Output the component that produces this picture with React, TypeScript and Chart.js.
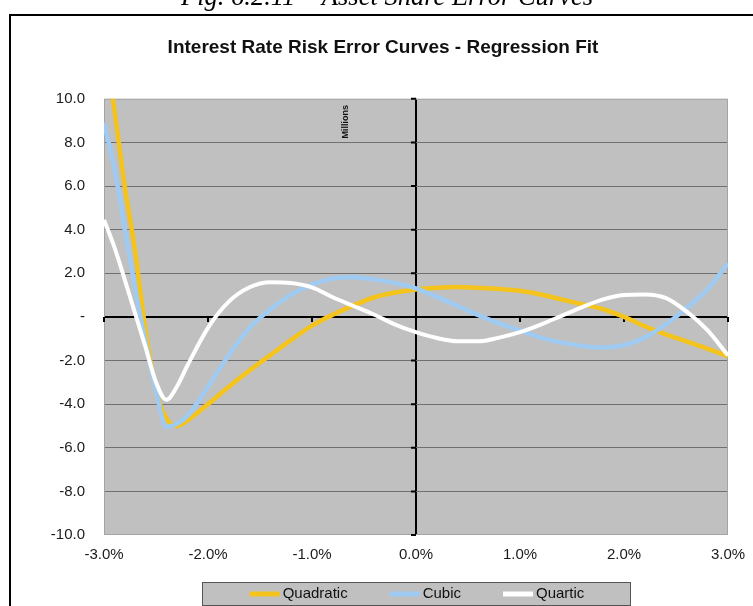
import React, { useEffect, useRef } from 'react';
import { Chart, registerables } from 'chart.js';

Chart.register(...registerables);

const CAPTION = 'Fig. 6.2.11 \u2013 Asset Share Error Curves';
const TITLE = 'Interest Rate Risk Error Curves - Regression Fit';
const UNIT_LABEL = 'Millions';

const seriesLabels = ['Quadratic', 'Cubic', 'Quartic'];
const seriesColors = ['#F4C31C', '#9FCBF2', '#FFFFFF'];

// interest-rate shift in %
const xValues = [
  -3.0, -2.9, -2.8, -2.7, -2.6, -2.5, -2.4, -2.3, -2.2, -2.0, -1.8, -1.6, -1.4, -1.2,
  -1.0, -0.8, -0.6, -0.4, -0.2, 0.0, 0.2, 0.4, 0.6, 0.8, 1.0, 1.2, 1.4, 1.6, 1.8,
  2.0, 2.2, 2.4, 2.6, 2.8, 3.0,
];

const quadratic = [
  12.8, 9.5, 6.0, 3.0, -0.65, -3.4, -4.65, -5.0, -4.75, -4.0, -3.2, -2.45, -1.75, -1.05,
  -0.4, 0.1, 0.53, 0.9, 1.12, 1.26, 1.34, 1.37, 1.33, 1.28, 1.2, 1.03, 0.8, 0.58, 0.35,
  0.0, -0.43, -0.8, -1.12, -1.45, -1.8,
];

const cubic = [
  8.9, 6.8, 4.0, 1.3, -1.2, -3.4, -5.05, -4.9, -4.55, -3.2, -1.75, -0.5, 0.35, 1.02,
  1.48, 1.76, 1.82, 1.72, 1.55, 1.31, 0.92, 0.5, 0.08, -0.3, -0.62, -0.95, -1.18, -1.33, -1.4,
  -1.3, -0.95, -0.35, 0.4, 1.25, 2.45,
];

const quartic = [
  4.45, 3.2, 1.7, 0.15, -1.4, -3.0, -3.8, -3.2, -2.25, -0.5, 0.7, 1.36, 1.59, 1.55,
  1.35, 0.9, 0.5, 0.1, -0.35, -0.7, -0.97, -1.12, -1.12, -0.95, -0.7, -0.35, 0.05, 0.45, 0.8,
  1.0, 1.03, 0.87, 0.25, -0.6, -1.77,
];

const seriesValues = [quadratic, cubic, quartic];

const FONT = 'Arial, "Liberation Sans", sans-serif';

const decorPlugin = {
  id: 'decor',
  beforeDraw(chart: any) {
    const { ctx, chartArea: a, width, height } = chart;
    ctx.save();
    ctx.fillStyle = '#ffffff';
    ctx.fillRect(0, 0, width, height);
    // caption (partly cut at top)
    ctx.fillStyle = '#000';
    ctx.font = 'italic 26.5px "Liberation Serif", "Times New Roman", serif';
    ctx.textAlign = 'center';
    ctx.textBaseline = 'alphabetic';
    ctx.fillText(CAPTION, 387, 5);
    // outer frame
    ctx.strokeStyle = '#000';
    ctx.lineWidth = 2;
    ctx.strokeRect(10, 15, width + 50, height + 50);
    // plot area background
    ctx.fillStyle = '#c0c0c0';
    ctx.fillRect(a.left, a.top, a.right - a.left, a.bottom - a.top);
    ctx.restore();
  },
  beforeDatasetsDraw(chart: any) {
    const { ctx, chartArea: a, scales } = chart;
    const xs = scales.x;
    const ys = scales.y;
    const x0 = xs.getPixelForValue(0);
    const y0 = ys.getPixelForValue(0);
    ctx.save();
    // plot border
    ctx.strokeStyle = '#a4a4a4';
    ctx.lineWidth = 1;
    ctx.strokeRect(a.left + 0.5, a.top + 0.5, a.right - a.left - 1, a.bottom - a.top - 1);
    // tick marks on the axes through zero
    ctx.strokeStyle = '#000';
    ctx.lineWidth = 2;
    ctx.beginPath();
    xs.ticks.forEach((t: any) => {
      const px = xs.getPixelForValue(t.value);
      ctx.moveTo(px, y0);
      ctx.lineTo(px, y0 + 5);
    });
    ys.ticks.forEach((t: any) => {
      const py = ys.getPixelForValue(t.value);
      ctx.moveTo(x0 - 5, py);
      ctx.lineTo(x0, py);
    });
    ctx.stroke();
    // unit label
    ctx.translate(x0 - 70.5, a.top + 23);
    ctx.rotate(-Math.PI / 2);
    ctx.fillStyle = '#111';
    ctx.font = 'bold 9px ' + FONT;
    ctx.textAlign = 'center';
    ctx.textBaseline = 'middle';
    ctx.fillText(UNIT_LABEL, 0, 0);
    ctx.restore();
  },
  afterDraw(chart: any) {
    const { ctx, chartArea: a } = chart;
    const cx = (a.left + a.right) / 2;
    const boxW = 428;
    const boxH = 23;
    const boxT = 582.5;
    const boxL = Math.round(cx - boxW / 2) + 0.5;
    ctx.save();
    ctx.fillStyle = '#c0c0c0';
    ctx.fillRect(boxL, boxT, boxW, boxH);
    ctx.strokeStyle = '#555';
    ctx.lineWidth = 1;
    ctx.strokeRect(boxL, boxT, boxW, boxH);
    ctx.font = '15px ' + FONT;
    ctx.textBaseline = 'middle';
    ctx.textAlign = 'left';
    const sample = 30;
    const gap = 3;
    const spacing = 42;
    const datasets = chart.data.datasets;
    const widths = datasets.map((d: any) => sample + gap + ctx.measureText(d.label).width);
    const total = widths.reduce((s: number, w: number) => s + w, 0) + spacing * (datasets.length - 1);
    let x = cx + 1 - total / 2;
    const cy = boxT + boxH / 2;
    datasets.forEach((d: any, i: number) => {
      ctx.strokeStyle = d.borderColor;
      ctx.lineWidth = 5;
      ctx.beginPath();
      ctx.moveTo(x, cy);
      ctx.lineTo(x + sample, cy);
      ctx.stroke();
      ctx.fillStyle = '#111';
      ctx.fillText(d.label, x + sample + gap, cy);
      x += widths[i] + spacing;
    });
    ctx.restore();
  },
};

export default function App() {
  const canvasRef = useRef<HTMLCanvasElement | null>(null);

  useEffect(() => {
    if (!canvasRef.current) return;
    const datasets = seriesLabels.map((label, i) => ({
      label,
      data: xValues.map((x, j) => ({ x, y: seriesValues[i][j] })),
      borderColor: seriesColors[i],
      backgroundColor: seriesColors[i],
      borderWidth: i === 2 ? 4 : 4.5,
      pointRadius: 0,
      cubicInterpolationMode: 'monotone' as const,
      fill: false,
      order: 3 - i,
    }));

    const chart = new Chart(canvasRef.current, {
      type: 'line',
      data: { datasets },
      plugins: [decorPlugin],
      options: {
        animation: false,
        responsive: false,
        maintainAspectRatio: false,
        layout: { padding: { top: 0, left: 38, right: 25, bottom: 31 } },
        plugins: {
          legend: { display: false },
          tooltip: { enabled: false },
          title: {
            display: true,
            text: TITLE,
            color: '#111',
            font: { family: FONT, size: 19, weight: 'bold' },
            padding: { top: 36, bottom: 40 },
          },
        },
        scales: {
          x: {
            type: 'linear',
            min: -3,
            max: 3,
            border: { display: false },
            afterFit: (s: any) => {
              s.paddingRight = 0;
              s.paddingLeft = 0;
            },
            grid: {
              drawTicks: false,
              color: (c: any) => (c.tick && c.tick.value === 0 ? '#000' : 'rgba(0,0,0,0)'),
              lineWidth: (c: any) => (c.tick && c.tick.value === 0 ? 2 : 0),
            },
            ticks: {
              stepSize: 1,
              padding: 11,
              color: '#1a1a1a',
              font: { family: FONT, size: 15 },
              callback: (v: any) => Number(v).toFixed(1) + '%',
            },
          },
          y: {
            min: -10,
            max: 10,
            border: { display: false },
            afterFit: (s: any) => {
              s.width = 66;
            },
            grid: {
              drawTicks: false,
              color: (c: any) => {
                const v = c.tick ? c.tick.value : null;
                if (v === 0) return '#000';
                if (v === 10 || v === -10) return 'rgba(0,0,0,0)';
                return '#6f6f6f';
              },
              lineWidth: (c: any) => (c.tick && c.tick.value === 0 ? 2 : 1),
            },
            ticks: {
              stepSize: 2,
              padding: 19,
              color: '#1a1a1a',
              font: { family: FONT, size: 15 },
              callback: (v: any) => (Number(v) === 0 ? '-' : Number(v).toFixed(1)),
            },
          },
        },
      },
    });
    return () => chart.destroy();
  }, []);

  return (
    <div
      style={{
        position: 'fixed',
        left: 0,
        top: 0,
        width: 753,
        height: 606,
        overflow: 'hidden',
        background: '#fff',
      }}
    >
      <canvas ref={canvasRef} width={753} height={606} style={{ width: 753, height: 606, display: 'block' }} />
    </div>
  );
}
